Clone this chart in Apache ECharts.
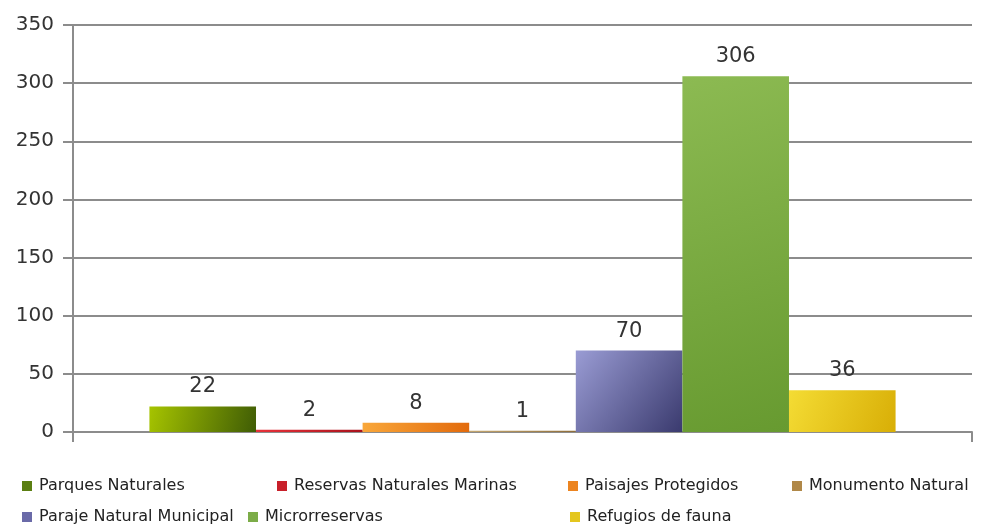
<!DOCTYPE html>
<html>
<head>
<meta charset="utf-8">
<script src="https://cdn.jsdelivr.net/npm/echarts@6/dist/echarts.min.js"></script>
<style>
  html, body { margin: 0; padding: 0; background: #fff; }
  #chart { width: 994px; height: 527px; }
</style>
</head>
<body>
<div id="chart"></div>
<script>
// datos
var categories = ['']
var seriesNames = ['Parques Naturales', 'Reservas Naturales Marinas', 'Paisajes Protegidos', 'Monumento Natural',
  'Paraje Natural Municipal', 'Microrreservas', 'Refugios de fauna']
var seriesValues = [22, 2, 8, 1, 70, 306, 36]
var yTicks = [0, 50, 100, 150, 200, 250, 300, 350]

// colores (degradado claro -> oscuro) e icono de leyenda
var barColors = [
  ['#a6c400', '#3f5c05', '#5b7f12'],
  ['#e8323a', '#a8121c', '#c8202a'],
  ['#f9a73a', '#e26a0c', '#ec8420'],
  ['#c4a66e', '#8f6e3a', '#b08848'],
  ['#9a9cd4', '#3a3a6e', '#6a6aa8'],
  ['#8cba52', '#679a30', '#7cac48'],
  ['#f4dc34', '#d8ae06', '#e4c61e']
]

// posiciones de la leyenda (a mano, como en el original)
var legendPos = [
  [22, 478], [277, 478], [568, 478], [792, 478],
  [22, 509], [248, 509], [570, 509]
]

var myChart = echarts.init(document.getElementById('chart'))

var series = seriesNames.map(function (name, i) {
  return {
    name: name,
    type: 'bar',
    barGap: '0%',
    barCategoryGap: '17%',
    itemStyle: {
      color: new echarts.graphic.LinearGradient(0, 0, 1, 1, [
        { offset: 0, color: barColors[i][0] },
        { offset: 1, color: barColors[i][1] }
      ])
    },
    label: {
      show: true,
      position: 'top',
      distance: 9,
      fontFamily: 'DejaVu Sans',
      fontSize: 21,
      color: '#333'
    },
    data: [seriesValues[i]]
  }
})

var legends = seriesNames.map(function (name, i) {
  return {
    left: legendPos[i][0],
    top: legendPos[i][1],
    data: [{ name: name, itemStyle: { color: barColors[i][2] } }],
    icon: 'rect',
    itemWidth: 10,
    itemHeight: 10,
    itemGap: 0,
    padding: 0,
    textStyle: {
      fontFamily: 'DejaVu Sans',
      fontSize: 16,
      color: '#222',
      padding: [0, 0, 0, 2]
    },
    selectedMode: false
  }
})

var option = {
  animation: false,
  color: barColors.map(function (c) { return c[2] }),
  grid: {
    left: 73,
    right: 22,
    top: 25,
    bottom: 95
  },
  legend: legends,
  xAxis: {
    type: 'category',
    data: categories,
    axisLine: { lineStyle: { color: '#8c8c8c', width: 2 } },
    axisTick: { show: true, length: 10, lineStyle: { color: '#8c8c8c', width: 2 } },
    axisLabel: { show: false }
  },
  yAxis: {
    type: 'value',
    min: yTicks[0],
    max: yTicks[yTicks.length - 1],
    interval: 50,
    axisLine: { show: true, onZero: false, lineStyle: { color: '#8c8c8c', width: 2 } },
    axisTick: { show: true, length: 10, lineStyle: { color: '#8c8c8c', width: 2 } },
    axisLabel: {
      margin: 19,
      fontFamily: 'DejaVu Sans',
      fontSize: 20,
      color: '#333'
    },
    splitLine: { lineStyle: { color: '#8c8c8c', width: 2 } }
  },
  series: series
}
myChart.setOption(option)
</script>
</body>
</html>
